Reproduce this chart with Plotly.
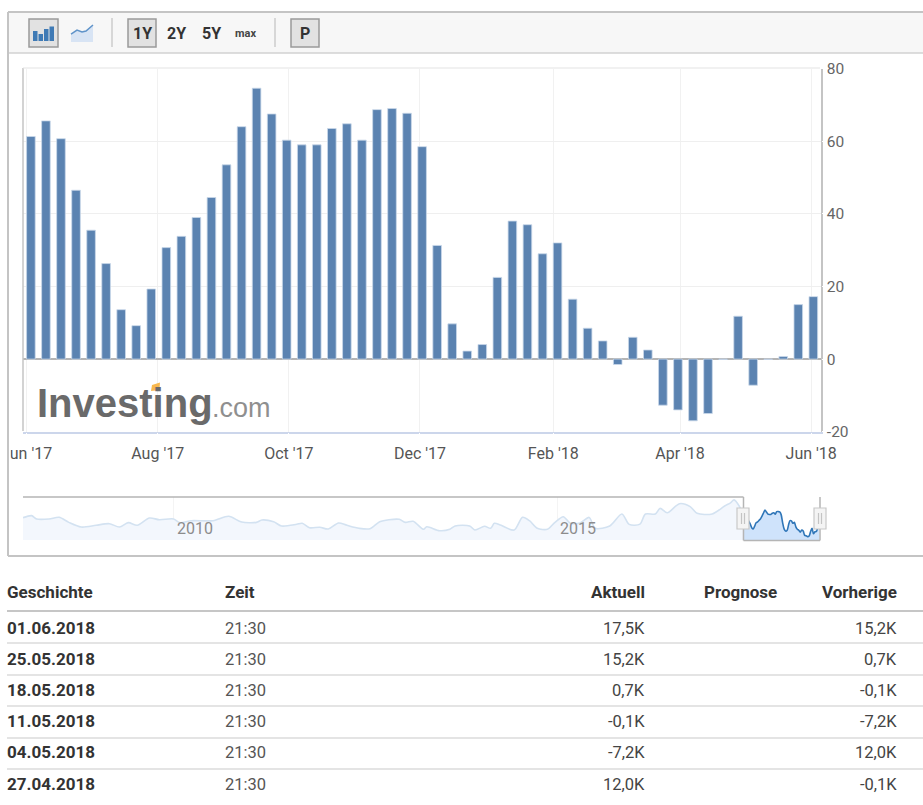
"""
Posiciones netas semanales (miles de contratos) con navegador y tabla de
historial, como aparece en Investing.com.
"""

import pandas as pd
import plotly.graph_objects as go

ANCHO = 923
ALTO = 805

# Valores semanales del último año, de junio 2017 a junio 2018.
netto = [
    61.3, 65.6, 60.7, 46.5, 35.5, 26.3, 13.6, 9.2, 19.3, 30.7, 33.8, 39.0, 44.5,
    53.5, 64.0, 74.6, 67.5, 60.3, 59.0, 59.0, 63.5, 64.8, 60.3, 68.7, 69.0, 67.7,
    58.5, 31.3, 9.7, 2.2, 4.0, 22.5, 38.0, 37.0, 29.0, 32.0, 16.5, 8.5, 5.0, -1.5,
    6.0, 2.5, -12.7, -14.0, -17.0, -15.0, -0.1, 11.8, -7.2, -0.1, 0.7, 15.0, 17.2,
]
wochen = pd.date_range("2017-06-03", periods=len(netto), freq="7D")

x_ticks = ["2017-06-01", "2017-08-01", "2017-10-01", "2017-12-01",
           "2018-02-01", "2018-04-01", "2018-06-01"]
x_labels = ["Jun '17", "Aug '17", "Oct '17", "Dec '17",
            "Feb '18", "Apr '18", "Jun '18"]
y_ticks = [-20, 0, 20, 40, 60, 80]
y_labels = ["-20", "0", "20", "40", "60", "80"]

nav_fechas = [
    "2008-01-15", "2008-02-25", "2008-03-20", "2008-05-18", "2008-07-05", "2008-08-20",
    "2008-10-18", "2008-12-28", "2009-03-01", "2009-04-18", "2009-05-30", "2009-07-12",
    "2009-09-08", "2009-10-25", "2010-01-01", "2010-01-30", "2010-03-26", "2010-07-08",
    "2010-09-20", "2010-11-21", "2011-01-30", "2011-02-25", "2011-04-22", "2011-05-30",
    "2011-08-10", "2011-09-05", "2011-10-10", "2011-11-28", "2012-01-08", "2012-02-25",
    "2012-04-05", "2012-06-02", "2012-07-24", "2012-09-08", "2012-10-22", "2012-12-10",
    "2013-01-08", "2013-02-14", "2013-04-05", "2013-04-20", "2013-06-20", "2013-08-08",
    "2013-09-02", "2013-11-10", "2013-12-05", "2014-01-20", "2014-02-18", "2014-03-08",
    "2014-04-05", "2014-06-10", "2014-07-20", "2014-08-22", "2014-09-28", "2014-11-15",
    "2014-12-20", "2015-01-30", "2015-03-03", "2015-04-20", "2015-06-02", "2015-07-01",
    "2015-09-08", "2015-11-05", "2015-12-10", "2016-01-30", "2016-02-25", "2016-04-12",
    "2016-05-05", "2016-06-08", "2016-08-05", "2016-09-25", "2016-10-28", "2017-01-08",
    "2017-03-08", "2017-04-05", "2017-04-22", "2017-05-18", "2017-06-03",
]
nav_valores = [
    48, 55, 43.6, 43.6, 49.4, 32, 16, 22, 27.4, 16, 31, 22, 47, 41, 43.6, 31, 37.7,
    37.7, 52.8, 33, 32, 40, 34, 19.6, 25.4, 28.8, 13.7, 15, 9.3, 30, 22, 11.7, 10.3,
    34, 41, 42.5, 32, 35.7, 8.2, 17, 3.4, 8.2, 19.6, 19.6, 5.8, 18.5, 11.7, 28.8, 23,
    5.8, 49.4, 37.7, 11.7, 8.2, 31, 51.5, 30, 30, 49, 11.7, 19.6, 60.7, 25, 26, 60.7,
    60.7, 80, 65, 96, 86, 63, 61, 88, 99, 109, 86, 61.3,
]

# Tabla de historial.
tabla_fecha = ["01.06.2018", "25.05.2018", "18.05.2018",
               "11.05.2018", "04.05.2018", "27.04.2018"]
tabla_zeit = ["21:30"] * 6
tabla_aktuell = ["17,5K", "15,2K", "0,7K", "-0,1K", "-7,2K", "12,0K"]
tabla_vorherige = ["15,2K", "0,7K", "-0,1K", "-7,2K", "12,0K", "-0,1K"]

FUENTE = "Roboto"
AZUL = "#5b83b1"
GRIS = "#c4c4c4"


def px(x):
    return x / ANCHO


def py(y):
    return 1 - y / ALTO


def texto(x, y, txt, size=14, color="#333333", bold=False, anchor="center", family=FUENTE):
    # Las anotaciones traen ~2 px de relleno, lo compensamos.
    ajuste = {"left": -2, "right": 2, "center": 0}[anchor]
    return dict(
        x=px(x + ajuste), y=py(y), xref="paper", yref="paper", showarrow=False,
        xanchor=anchor, yanchor="middle", text=f"<b>{txt}</b>" if bold else txt,
        font=dict(family=family, size=size, color=color),
    )


def linea(x0, y0, x1, y1, color=GRIS, ancho=1.0, layer="above"):
    return dict(
        type="line", xref="paper", yref="paper", layer=layer,
        x0=px(x0), y0=py(y0), x1=px(x1), y1=py(y1),
        line=dict(color=color, width=ancho),
    )


def caja(x0, y0, x1, y1, fill, color=None, ancho=0):
    return dict(
        type="rect", xref="paper", yref="paper", layer="above",
        x0=px(x0), y0=py(y0), x1=px(x1), y1=py(y1), fillcolor=fill,
        line=dict(color=color or fill, width=ancho),
    )


def trazo(puntos, fill="rgba(0,0,0,0)", color=None, ancho=0, cerrar=False):
    path = "M" + " L".join(f"{px(a):.5f},{py(b):.5f}" for a, b in puntos)
    return dict(
        type="path", xref="paper", yref="paper", layer="above",
        path=path + (" Z" if cerrar else ""), fillcolor=fill,
        line=dict(color=color or "rgba(0,0,0,0)", width=ancho),
    )


fig = go.Figure()

fig.add_trace(
    go.Bar(
        x=wochen,
        y=netto,
        width=8.6 / 2.148 * 86400000,
        marker_color=AZUL,
        marker_line_color="#c9d8ea",
        marker_line_width=0.8,
        xaxis="x",
        yaxis="y",
    )
)

# Navegador: piso invisible + histórico claro + último año resaltado.
piso = -28.5

fig.add_trace(
    go.Scatter(
        x=nav_fechas, y=[piso] * len(nav_fechas), mode="lines",
        line_width=0, xaxis="x2", yaxis="y2", hoverinfo="skip",
    )
)
fig.add_trace(
    go.Scatter(
        x=nav_fechas, y=nav_valores, mode="lines", fill="tonexty",
        fillcolor="#f3f7fd", line=dict(color="#d3e2f1", width=1.6, shape="spline", smoothing=0.8),
        xaxis="x2", yaxis="y2",
    )
)
fig.add_trace(
    go.Scatter(
        x=wochen, y=[piso] * len(wochen), mode="lines",
        line_width=0, xaxis="x2", yaxis="y2", hoverinfo="skip",
    )
)
fig.add_trace(
    go.Scatter(
        x=wochen, y=netto, mode="lines", fill="tonexty",
        fillcolor="#cfe3fb", line=dict(color="#2f76b8", width=1.6, shape="spline", smoothing=0.8),
        xaxis="x2", yaxis="y2",
    )
)

fig.update_layout(
    xaxis=dict(
        domain=[px(23), px(820.5)],
        type="date",
        range=["2017-05-30 08:00", "2018-06-05 08:00"],
        tickmode="array",
        tickvals=x_ticks,
        ticktext=x_labels,
        tickfont=dict(family=FUENTE, size=16, color="#555555"),
        ticks="outside",
        ticklen=6,
        tickcolor="#ffffff",
        showgrid=True,
        gridcolor="#f1f1f1",
        gridwidth=1,
        showline=True,
        linecolor="#ccd6eb",
        linewidth=1.5,
        zeroline=False,
        automargin=False,
        anchor="y",
    ),
    yaxis=dict(
        domain=[py(431.7), py(68.6)],
        range=[-20, 80],
        side="right",
        tickmode="array",
        tickvals=y_ticks,
        ticktext=y_labels,
        tickfont=dict(family=FUENTE, size=15.5, color="#666666"),
        ticks="outside",
        ticklen=1.5,
        tickcolor="#ffffff",
        showgrid=True,
        gridcolor="#efefef",
        gridwidth=1.2,
        showline=True,
        linecolor=GRIS,
        linewidth=1.5,
        zeroline=True,
        zerolinecolor="#b4b4b4",
        zerolinewidth=2,
        automargin=False,
        anchor="x",
    ),
    xaxis2=dict(
        domain=[px(23), px(820)],
        type="date",
        range=["2008-01-15", "2018-06-05"],
        tickmode="array",
        tickvals=["2010-01-01", "2015-01-01"],
        showticklabels=False,
        showgrid=True,
        gridcolor="#f4f4f4",
        showline=False,
        zeroline=False,
        automargin=False,
        anchor="y2",
    ),
    yaxis2=dict(
        domain=[py(540), py(497)],
        range=[piso, 119],
        showticklabels=False,
        showgrid=False,
        showline=False,
        zeroline=False,
        automargin=False,
        anchor="x2",
    ),
    width=ANCHO,
    height=ALTO,
    margin=dict(l=0, r=0, t=0, b=0),
    showlegend=False,
    plot_bgcolor="#ffffff",
    paper_bgcolor="#ffffff",
    font_family=FUENTE,
)

formas = [
    # Barra de herramientas.
    caja(9, 13, 923, 53, "#f7f7f7"),
    linea(8, 53, 923, 53, "#d2d2d2", 1.5),
    linea(112, 18, 112, 47, "#cccccc", 1.5),
    linea(275, 18, 275, 47, "#cccccc", 1.5),
    caja(29, 19, 58, 47, "#e2e2e2", "#9a9a9a", 1.5),
    caja(128, 19, 156, 47, "#e2e2e2", "#9a9a9a", 1.5),
    caja(291, 19, 319, 47, "#e2e2e2", "#9a9a9a", 1.5),
    caja(33, 31, 37.5, 41, "#3f7ab5"),
    caja(38.5, 34, 43, 41, "#3f7ab5"),
    caja(44, 29, 48.5, 41, "#3f7ab5"),
    caja(49.5, 26.5, 54, 41, "#3f7ab5"),
    trazo([(71, 34), (77, 30), (82, 32), (86, 31), (93, 25), (93, 42), (71, 42)],
          fill="#d8e4f4", cerrar=True),
    trazo([(71, 34), (77, 30), (82, 32), (86, 31), (93, 25)], color="#5f93c9", ancho=1.5),
    # Borde del gráfico.
    linea(23, 68, 23, 431, GRIS, 1.5),
    linea(23, 68, 820, 68, "#e4e4e4", 1.2),
    # Recorte de la primera etiqueta del eje.
    caja(0, 441, 10.5, 462, "#ffffff"),
    # Marco exterior.
    linea(8, 12, 923, 12, GRIS, 2),
    linea(8, 12, 8, 556, GRIS, 2),
    linea(8, 556, 923, 556, GRIS, 2),
    # Logo.
    trazo([(152, 385), (160, 382.5), (159.5, 390), (151, 391)], fill="#f8b84e", cerrar=True),
    # Ventana del navegador.
    linea(23, 497, 743.5, 497, "#b5b5b5", 1.5),
    linea(743.5, 497, 743.5, 540.5, "#b5b5b5", 1.5),
    linea(743.5, 540.5, 820, 540.5, "#b5b5b5", 1.5),
    linea(820, 497, 820, 540.5, "#b5b5b5", 1.5),
    caja(737, 508, 749, 529, "#f4f4f4", "#c8c8c8", 1.2),
    caja(814, 508, 826, 529, "#f4f4f4", "#c8c8c8", 1.2),
    linea(741.5, 513, 741.5, 524, "#c4c4c4", 1.2),
    linea(744.5, 513, 744.5, 524, "#c4c4c4", 1.2),
    linea(818.5, 513, 818.5, 524, "#c4c4c4", 1.2),
    linea(821.5, 513, 821.5, 524, "#c4c4c4", 1.2),
    # Líneas de la tabla.
    linea(7, 611, 923, 611, "#c6c6c6", 2.2),
]

for y in [643, 675, 706, 738, 769]:
    formas.append(linea(7, y, 923, y, "#c9c9c9", 1.2))

notas = [
    texto(142, 33, "1Y", 16, "#333333", True),
    texto(176, 33, "2Y", 16, "#333333", True),
    texto(211, 33, "5Y", 16, "#333333", True),
    texto(245, 33, "max", 11, "#444444", True),
    texto(305, 33, "P", 16, "#333333", True),
    texto(37, 403, "Investing", 40, "#6a6a6a", True, "left", "Liberation Sans"),
    texto(212, 408, ".com", 27, "#8f8f8f", False, "left", "Liberation Sans"),
    texto(195, 528, "2010", 16, "#8c8c8c"),
    texto(578, 528, "2015", 16, "#8c8c8c"),
    texto(7, 592, "Geschichte", 17, "#333333", True, "left"),
    texto(225, 592, "Zeit", 17, "#333333", True, "left"),
    texto(645, 592, "Aktuell", 17, "#333333", True, "right"),
    texto(777, 592, "Prognose", 17, "#333333", True, "right"),
    texto(897, 592, "Vorherige", 17, "#333333", True, "right"),
]

filas_y = [628, 659, 690, 721, 752, 784]

for y, fecha, zeit, aktuell, vorherige in zip(
    filas_y, tabla_fecha, tabla_zeit, tabla_aktuell, tabla_vorherige
):
    notas.append(texto(7, y, fecha, 17, "#333333", True, "left"))
    notas.append(texto(225, y, zeit, 16.5, "#555555", False, "left"))
    notas.append(texto(645, y, aktuell, 16.5, "#444444", False, "right"))
    notas.append(texto(897, y, vorherige, 16.5, "#444444", False, "right"))

fig.update_layout(shapes=formas, annotations=notas)

fig.write_html(
    "out.html",
    config={"displayModeBar": False},
    post_script="document.body.style.margin='0';",
)
